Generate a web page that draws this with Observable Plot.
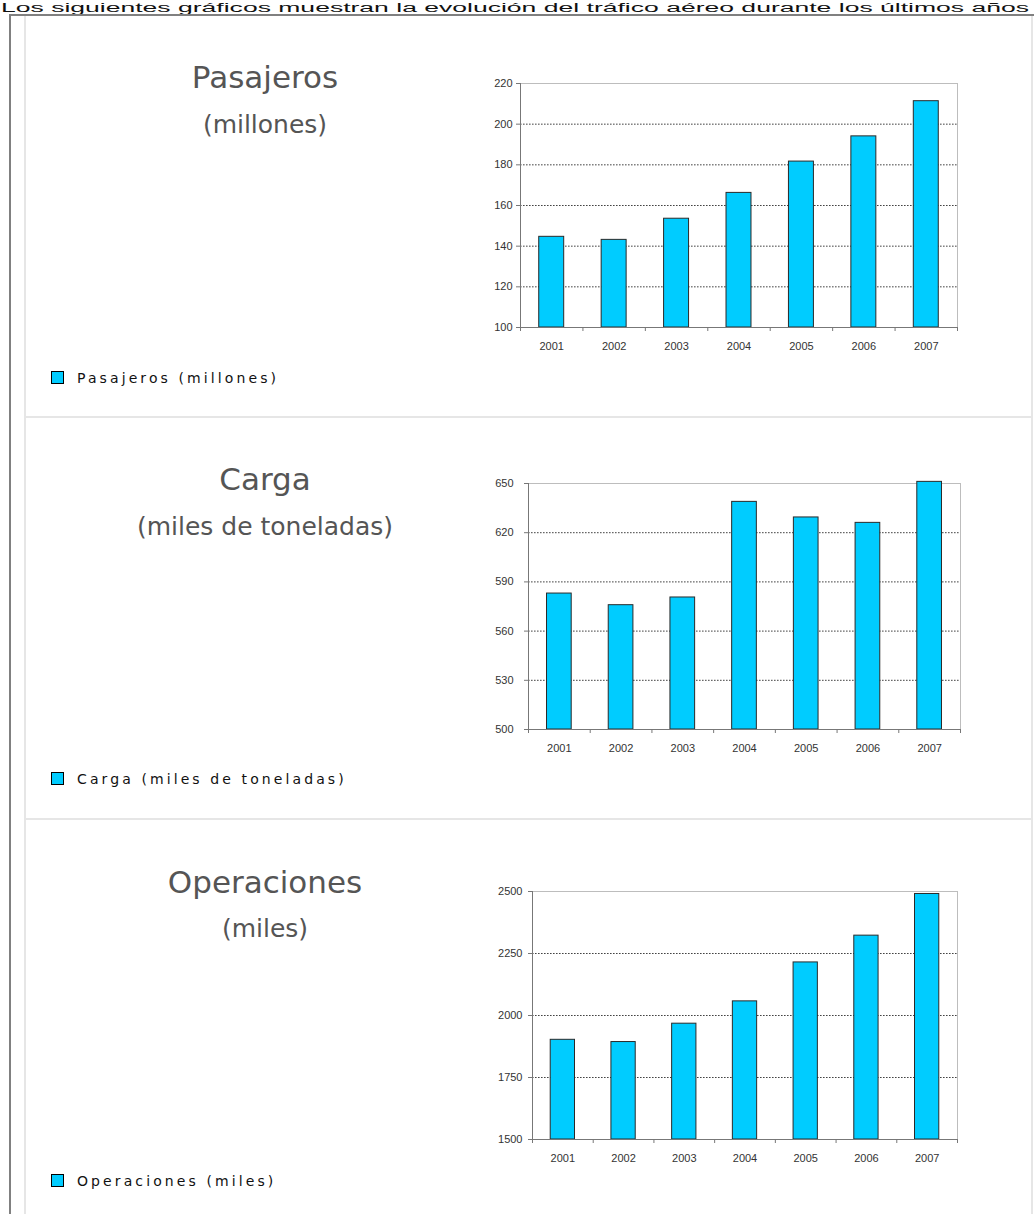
<!DOCTYPE html>
<html><head><meta charset="utf-8">
<script src="https://cdn.jsdelivr.net/npm/d3@7"></script>
<script src="https://cdn.jsdelivr.net/npm/@observablehq/plot@0.6"></script>
<style>
html,body{margin:0;padding:0;background:#fff;}
body{width:1034px;height:1214px;overflow:hidden;position:relative;}
.chart{position:absolute;}
#deco{position:absolute;left:0;top:0;}
</style></head><body>
<svg id="deco" width="1034" height="1214"></svg>
<script>
// ---- data ----
const years = [2001, 2002, 2003, 2004, 2005, 2006, 2007];
const pasajeros = [144.6, 143.1, 153.5, 166.2, 181.6, 194.0, 211.3];
const carga = [582.9, 575.8, 580.5, 638.8, 629.3, 626.0, 651];
const operaciones = [1902, 1893, 1967, 2057, 2214, 2322, 2490];
const ticksPasajeros = [100, 120, 140, 160, 180, 200, 220];
const ticksCarga = [500, 530, 560, 590, 620, 650];
const ticksOperaciones = [1500, 1750, 2000, 2250, 2500];
const titles = ["Pasajeros", "Carga", "Operaciones"];
const subtitles = ["(millones)", "(miles de toneladas)", "(miles)"];
const legendLabels = ["Pasajeros (millones)", "Carga (miles de toneladas)", "Operaciones (miles)"];
const introText = "Los siguientes gráficos muestran la evolución del tráfico aéreo durante los últimos años";

const BAR = "#00ccff";

// ---- decoration / layout ----
const deco = d3.select("#deco");
deco.append("text").attr("x", 1).attr("y", 11.5)
  .attr("font-family", "Liberation Sans, Arial, sans-serif").attr("font-size", 12)
  .attr("textLength", 1028).attr("lengthAdjust", "spacingAndGlyphs")
  .attr("fill", "#111").text(introText);
deco.append("rect").attr("x", 9).attr("y", 14).attr("width", 1025).attr("height", 2).attr("fill", "#808080");
deco.append("rect").attr("x", 9).attr("y", 14).attr("width", 2).attr("height", 1200).attr("fill", "#808080");
deco.append("rect").attr("x", 24).attr("y", 16).attr("width", 2).attr("height", 1198).attr("fill", "#e6e6e6");
deco.append("rect").attr("x", 1031).attr("y", 16).attr("width", 2).attr("height", 1198).attr("fill", "#e6e6e6");
[416, 818].forEach(y => deco.append("rect").attr("x", 26).attr("y", y).attr("width", 1005).attr("height", 2).attr("fill", "#e6e6e6"));

const titleBase = [88, 490, 893];
const subBase = [133, 535, 937];
const legendTop = [371, 772, 1174];
titles.forEach((t, i) => {
  deco.append("text").attr("x", 265).attr("y", titleBase[i]).attr("text-anchor", "middle")
    .attr("font-family", "DejaVu Sans, Verdana, sans-serif").attr("font-size", 31).attr("fill", "#555").text(t);
  deco.append("text").attr("x", 265).attr("y", subBase[i]).attr("text-anchor", "middle")
    .attr("font-family", "DejaVu Sans, Verdana, sans-serif").attr("font-size", 25).attr("fill", "#555").text(subtitles[i]);
  deco.append("rect").attr("x", 51.5).attr("y", legendTop[i] + 0.5).attr("width", 12).attr("height", 12)
    .attr("fill", BAR).attr("stroke", "#000").attr("stroke-width", 1);
  deco.append("text").attr("x", 77).attr("y", legendTop[i] + 12)
    .attr("font-family", "DejaVu Sans, Verdana, sans-serif").attr("font-size", 14)
    .attr("letter-spacing", 3.1).attr("fill", "#111").text(legendLabels[i]);
});

// ---- charts ----
function barChart(values, yTicks, box, tickPad) {
  const mL = 80, mT = 30, mR = 40, mB = 50;
  const w = (box.x1 - box.x0) + mL + mR;
  const h = (box.y1 - box.y0) + mT + mB;
  const ymin = yTicks[0], ymax = yTicks[yTicks.length - 1];
  const data = years.map((year, i) => ({year, value: values[i]}));
  const boundaries = [years[0] - 0.5, ...years.map(y => y + 0.5)];
  const svg = Plot.plot({
    width: w, height: h,
    marginLeft: mL, marginTop: mT, marginRight: mR, marginBottom: mB,
    style: {fontFamily: "Liberation Sans, Arial, sans-serif", fontSize: "11px", color: "#333", background: "transparent", overflow: "visible"},
    x: {domain: [years[0] - 0.5, years[years.length - 1] + 0.5]},
    y: {domain: [ymin, ymax]},
    marks: [
      Plot.ruleY(yTicks.slice(1, -1), {stroke: "#444", strokeDasharray: "1.6,1.4"}),
      Plot.ruleY([ymax], {stroke: "#bdbdbd"}),
      Plot.ruleX([years[years.length - 1] + 0.5], {stroke: "#bdbdbd"}),
      Plot.rectY(data, {x1: d => d.year - 0.2, x2: d => d.year + 0.2, y1: ymin, y2: "value", fill: BAR, stroke: "#2a2a2a", strokeWidth: 1}),
      Plot.ruleX([years[0] - 0.5], {stroke: "#777"}),
      Plot.ruleY([ymin], {stroke: "#777"}),
      Plot.axisY({ticks: yTicks, tickSize: 4, tickPadding: tickPad, stroke: "#777", fill: "#333", label: null, tickFormat: d => String(d)}),
      Plot.axisX({ticks: boundaries, tickSize: 4, tickFormat: () => "", stroke: "#777", label: null}),
      Plot.axisX({ticks: years, tickSize: 0, tickPadding: 15, fill: "#333", label: null, tickFormat: d => String(d)})
    ]
  });
  const div = document.createElement("div");
  div.className = "chart";
  div.style.left = (box.x0 - mL) + "px";
  div.style.top = (box.y0 - mT) + "px";
  div.appendChild(svg);
  document.body.appendChild(div);
}

barChart(pasajeros, ticksPasajeros, {x0: 520, x1: 957, y0: 83, y1: 327}, 4);
barChart(carga, ticksCarga, {x0: 528, x1: 960, y0: 483, y1: 729}, 11);
barChart(operaciones, ticksOperaciones, {x0: 532, x1: 957, y0: 891, y1: 1139}, 6);
</script>
</body></html>
